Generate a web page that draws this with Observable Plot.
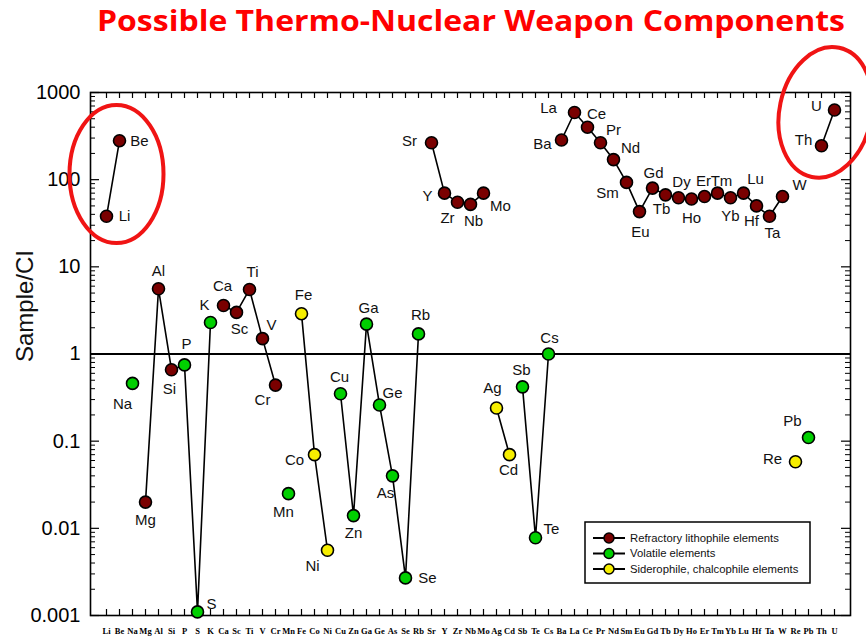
<!DOCTYPE html>
<html><head><meta charset="utf-8">
<script src="https://cdn.jsdelivr.net/npm/d3@7"></script>
<script src="https://cdn.jsdelivr.net/npm/@observablehq/plot@0.6"></script>
<style>
body{margin:0;background:#fff;}
#wrap{position:relative;width:866px;height:638px;overflow:hidden;background:#fff;}
#title{position:absolute;left:0;top:0;}
</style></head><body>
<div id="wrap"><svg id="title" width="866" height="45"><text x="97" y="31" textLength="748" lengthAdjust="spacingAndGlyphs" font-family="Open Sans" font-weight="700" font-size="29" fill="#ff0000">Possible Thermo-Nuclear Weapon Components</text></svg></div>
<script>
// ---------------- DATA ----------------
const elements = ["Li","Be","Na","Mg","Al","Si","P","S","K","Ca","Sc","Ti","V","Cr","Mn","Fe","Co","Ni","Cu","Zn","Ga","Ge","As","Se","Rb","Sr","Y","Zr","Nb","Mo","Ag","Cd","Sb","Te","Cs","Ba","La","Ce","Pr","Nd","Sm","Eu","Gd","Tb","Dy","Ho","Er","Tm","Yb","Lu","Hf","Ta","W","Re","Pb","Th","U"];
const values = [38,280,0.46,0.02,5.6,0.66,0.75,0.0011,2.3,3.6,3.0,5.5,1.5,0.44,0.025,2.9,0.07,0.0056,0.35,0.014,2.2,0.26,0.04,0.0027,1.7,265,70,55,52,70,0.24,0.07,0.42,0.0078,1.0,285,590,400,265,170,93,43,80,67,62,60,64,70,62,70,50,38,64,0.058,0.11,245,630];
const groups = ["R","R","V","R","R","R","V","V","V","R","R","R","R","R","V","S","S","S","V","V","V","V","V","V","V","R","R","R","R","R","S","S","V","V","V","R","R","R","R","R","R","R","R","R","R","R","R","R","R","R","R","R","R","S","V","R","R"];
const segments = [1,1,null,2,2,2,2,2,2,3,3,3,3,3,null,4,4,4,5,5,5,5,5,5,5,6,6,6,6,6,7,7,8,8,8,9,9,9,9,9,9,9,9,9,9,9,9,9,9,9,9,9,9,null,null,10,10];
const groupCodes = ["R","V","S"];
const groupNames = ["Refractory lithophile elements","Volatile elements","Siderophile, chalcophile elements"];
const yTicks = [0.001,0.01,0.1,1,10,100,1000];
const yTickLabels = ["0.001","0.01","0.1","1","10","100","1000"];
const yLabel = "Sample/CI";

// ---------------- STYLE ----------------
const groupColors = ["#7a0000","#00d000","#f6ee00"];
const labelOffsets = {Li:[18,0],Be:[20,0],Na:[-10,21],Mg:[0,18],Al:[0,-18],Si:[-2,19],P:[2,-21],S:[14,-8],K:[-6,-17],Ca:[-1,-19],Sc:[3,17],Ti:[3,-17],V:[9,-13],Cr:[-13,15],Mn:[-5,19],Fe:[2,-19],Co:[-20,6],Ni:[-15,16],Cu:[-1,-17],Zn:[0,18],Ga:[2,-16],Ge:[13,-12],As:[-7,17],Se:[22,0],Rb:[2,-19],Sr:[-22,-2],Y:[-17,3],Zr:[-10,16],Nb:[3,17],Mo:[17,13],Ag:[-4,-20],Cd:[-1,16],Sb:[-1,-17],Te:[16,-9],Cs:[1,-16],Ba:[-19,4],La:[-26,-4],Ce:[9,-13],Pr:[13,-13],Nd:[17,-11],Sm:[-19,11],Eu:[1,21],Gd:[1,-15],Tb:[-4,14],Dy:[3,-16],Ho:[0,19],Er:[-1,-15],Tm:[4,-12],Yb:[0,18],Lu:[12,-14],Hf:[-5,15],Ta:[3,17],W:[17,-11],Re:[-23,-3],Pb:[-16,-16],Th:[-18,-6],U:[-18,-4]};
const W = 866, H = 638, mL = 90, mR = 16, mT = 92, mB = 23;
const innerW = W - mL - mR, innerH = H - mT - mB;

const data = elements.map((el, i) => ({el, v: values[i], g: groupNames[groupCodes.indexOf(groups[i])], seg: segments[i]}));
const isPow = t => Math.abs(Math.log10(t) - Math.round(Math.log10(t))) < 1e-6;
const minor = d3.scaleLog().domain([0.001, 1000]).ticks().filter(t => !isPow(t));

const labelMarks = data.map(d => Plot.text([d], {
  x: "el", y: "v", text: "el", dx: labelOffsets[d.el][0], dy: labelOffsets[d.el][1],
  fontSize: 15, fontFamily: "Liberation Sans, Arial", fill: "#111"
}));

const plot = Plot.plot({
  width: W, height: H,
  marginLeft: mL, marginRight: mR, marginTop: mT, marginBottom: mB,
  style: {background: "transparent", overflow: "visible"},
  x: {type: "point", domain: elements, padding: 1},
  y: {type: "log", domain: [0.001, 1000]},
  color: {domain: groupNames, range: groupColors},
  marks: [
    Plot.frame({stroke: "#000", strokeWidth: 1.6}),
    Plot.tickX(elements, {x: d => d, insetTop: innerH - 6, stroke: "#000", strokeWidth: 1.2}),
    Plot.tickX(elements, {x: d => d, insetBottom: innerH - 6, stroke: "#000", strokeWidth: 1.2}),
    Plot.tickY(yTicks, {y: d => d, insetRight: innerW - 9, stroke: "#000", strokeWidth: 1.2}),
    Plot.tickY(yTicks, {y: d => d, insetLeft: innerW - 9, stroke: "#000", strokeWidth: 1.2}),
    Plot.tickY(minor, {y: d => d, insetRight: innerW - 5, stroke: "#000", strokeWidth: 1}),
    Plot.tickY(minor, {y: d => d, insetLeft: innerW - 5, stroke: "#000", strokeWidth: 1}),
    Plot.axisY(yTicks, {tickSize: 0, tickPadding: 10, tickFormat: d => yTickLabels[yTicks.indexOf(d)], fontSize: 20, fontFamily: "Liberation Sans, Arial", label: null}),
    Plot.axisX({tickSize: 0, tickPadding: 12, fontSize: 8.5, fontFamily: "Liberation Serif, Times New Roman", fontWeight: "bold", label: null}),
    Plot.text([yLabel], {frameAnchor: "left", dx: -65, dy: 8, rotate: -90, fontSize: 24, fontFamily: "Liberation Sans, Arial", fill: "#111"}),
    Plot.ruleY([1], {stroke: "#000", strokeWidth: 2}),
    Plot.line(data.filter(d => d.seg != null), {x: "el", y: "v", z: "seg", stroke: "#000", strokeWidth: 1.6}),
    Plot.dot(data, {x: "el", y: "v", fill: "g", stroke: "#000", strokeWidth: 1.6, r: 6}),
    ...labelMarks
  ]
});

document.getElementById("wrap").insertBefore(plot, document.getElementById("title"));

// annotations: red ellipses and legend
const xs = plot.scale("x"), ys = plot.scale("y");
const svg = d3.select(plot);
const byEl = Object.fromEntries(data.map(d => [d.el, d]));
function ellipseAround(a, b, ox, oy, rx, ry, rot) {
  const cx = (xs.apply(a) + xs.apply(b)) / 2 + ox;
  const cy = ys.apply(Math.sqrt(byEl[a].v * byEl[b].v)) + oy;
  svg.append("ellipse").attr("cx", cx).attr("cy", cy).attr("rx", rx).attr("ry", ry)
    .attr("transform", `rotate(${rot},${cx},${cy})`)
    .attr("fill", "none").attr("stroke", "#f01414").attr("stroke-width", 4);
}
ellipseAround("Li", "Be", 4, -4, 47, 69, 0);
ellipseAround("Th", "U", -2, -15, 46, 66, 12);

const lg = svg.append("g").attr("transform", "translate(585,522)").attr("text-anchor", "start");
lg.append("rect").attr("width", 225).attr("height", 61).attr("fill", "#fff").attr("stroke", "#000").attr("stroke-width", 1.5);
groupNames.forEach((name, i) => {
  const y = 16 + i * 15.5;
  lg.append("line").attr("x1", 8).attr("x2", 40).attr("y1", y).attr("y2", y).attr("stroke", "#000").attr("stroke-width", 2);
  lg.append("circle").attr("cx", 24).attr("cy", y).attr("r", 5).attr("fill", groupColors[i]).attr("stroke", "#000").attr("stroke-width", 1.5);
  lg.append("text").attr("x", 45).attr("y", y).attr("dy", "0.35em").attr("font-size", 11.3)
    .attr("text-anchor", "start")
    .attr("font-family", "Liberation Sans, Arial").attr("fill", "#111").text(name);
});
</script>
</body></html>
